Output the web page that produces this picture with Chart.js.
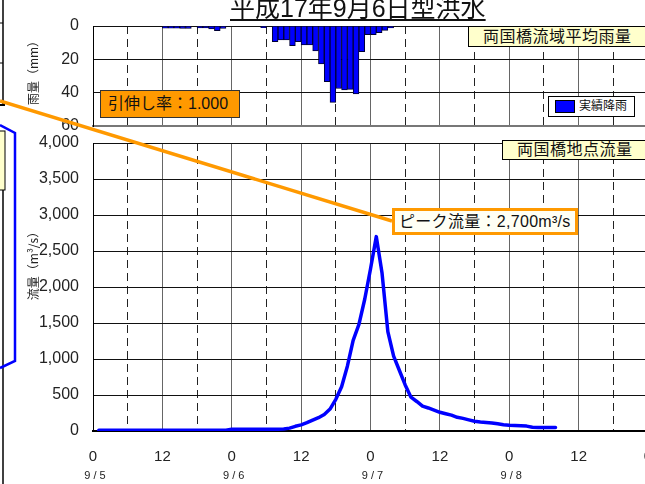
<!DOCTYPE html>
<html>
<head>
<meta charset="utf-8">
<script src="https://cdn.jsdelivr.net/npm/chart.js@4/dist/chart.umd.min.js"></script>
<style>
  html, body { margin: 0; padding: 0; background: #fff; overflow: hidden; width: 645px; height: 484px; }
  #wrap { position: relative; width: 645px; height: 484px; overflow: hidden;
          font-family: "Liberation Sans", "Noto Sans CJK JP", sans-serif; color: #111; }
  canvas { position: absolute; left: 0; }
  #rainChart { top: 0; }
  #flowChart { top: 130px; }
  #deco { position: absolute; left: 0; top: 0; }
  .box { position: absolute; box-sizing: border-box; white-space: nowrap; }
  #title { position: absolute; left: 230px; top: -4px; font-size: 25px; line-height: 25px;
           text-decoration: underline; text-decoration-thickness: 2px; text-underline-offset: 2px; }
  #rainName { left: 468px; top: 26px; width: 190px; height: 21px; background: #ffffcc;
              border: 1px solid #000; font-size: 16px; line-height: 19px; padding-left: 14px; letter-spacing: 0.5px; }
  #flowName { left: 502px; top: 140px; width: 160px; height: 20px; background: #ffffcc;
              border: 1px solid #000; font-size: 16px; line-height: 18px; padding-left: 14px; letter-spacing: 0.5px; }
  #legend { left: 548px; top: 96px; width: 87px; height: 21px; background: #fff;
            border: 1px solid #000; font-size: 12px; line-height: 19px; padding-left: 30px; }
  #legend i { position: absolute; left: 6px; top: 3px; width: 20px; height: 13px; background: #0000ff;
              border: 1px solid #000; box-sizing: border-box; }
  #ratio { left: 100px; top: 90px; width: 140px; height: 28px; background: #ff9900;
           border: 1px solid #333; font-size: 16px; line-height: 26px; padding-left: 7px; }
  #peak { left: 392px; top: 208px; width: 186px; height: 27px; background: #fffff4;
          border: 3px solid #ff9900; font-size: 16px; line-height: 21px; padding-left: 4px; letter-spacing: 0.3px; }
</style>
</head>
<body>
<div id="wrap">
  <canvas id="rainChart" width="660" height="140"></canvas>
  <canvas id="flowChart" width="660" height="354"></canvas>
  <svg id="deco" width="645" height="484">
    <line x1="3" y1="0" x2="3" y2="105" stroke="#000" stroke-width="1.5"/>
    <line x1="0" y1="23" x2="3" y2="23" stroke="#000" stroke-width="1"/>
    <line x1="0" y1="63" x2="3" y2="63" stroke="#000" stroke-width="1"/>
    <line x1="0" y1="105" x2="5" y2="105" stroke="#000" stroke-width="2"/>
    <rect x="-2" y="131" width="7" height="59" fill="#ffffcc" stroke="#000" stroke-width="1"/>
    <line x1="3" y1="190" x2="3" y2="484" stroke="#000" stroke-width="1.5"/>
    <polyline points="0,125 15,133 15,361 0,368" fill="none" stroke="#0000ff" stroke-width="2.5"/>
    <line x1="0" y1="101" x2="392" y2="221" stroke="#ff9900" stroke-width="3.5"/>
  </svg>
  <div id="title">平成17年9月6日型洪水</div>
  <div class="box" id="rainName">両国橋流域平均雨量</div>
  <div class="box" id="flowName">両国橋地点流量</div>
  <div class="box" id="legend"><i></i>実績降雨</div>
  <div class="box" id="ratio">引伸し率：1.000</div>
  <div class="box" id="peak">ピーク流量：2,700m³/s</div>
</div>
<script>
// hourly basin rainfall (mm), hour 0 = 9/5 0:00
const rainfall = [
  0, 0, 0, 0, 0, 0, 0, 0, 0, 0, 0, 0,
  1.3, 1.3, 1.3, 1.5, 1.5, 0, 1.2, 1.2, 1.8, 2.8, 1.5, 0,
  0.3, 0.3, 0.3, 0.3, 0.3, 1.0, 0, 9.4, 8.4, 8.4, 11.8, 9.4,
  11.4, 11.4, 15, 22.8, 33.4, 45.8, 37.5, 38.4, 38, 40.8, 15.4, 5.2,
  5.2, 4, 2.6, 1.2, 0.3, 0.3, 0.3, 0.3, 0.3, 0.3
];

// hourly discharge at Ryogoku bridge (m3/s), starting at flowStartHour
const flowStartHour = 1;
const flow = [
  10, 10, 10, 10, 10, 10, 10, 10, 10, 10, 10, 10,
  10, 10, 10, 10, 10, 10, 10, 10, 10, 10, 10,
  25, 25, 25, 25, 25, 25, 25, 25, 25, 28,
  40, 65, 85, 115, 150, 185, 230, 305, 440, 615,
  900, 1260, 1480, 1830, 2250, 2700, 2190, 1380, 1040, 840,
  640, 470, 410, 345, 320, 290, 260, 240, 220, 190,
  175, 155, 135, 125, 118, 112, 100, 88, 80, 76,
  72, 68, 52, 50, 50, 50, 50
];

const hourLabels = ["0", "12"];
const dateLabels = ["9 / 5", "9 / 6", "9 / 7", "9 / 8"];

const tickFont = { family: "'Liberation Sans Narrow', 'Liberation Sans', sans-serif", size: 16 };
const titleFont = { family: "'Noto Sans CJK JP', sans-serif", size: 12 };

const isHalf = (ctx) => ctx.tick && ctx.tick.value % 12 !== 0;
const vDash = (ctx) => (isHalf(ctx) ? [8, 5] : []);
const vColor = (ctx) => (isHalf(ctx) ? "#222" : "#666");
const clear = "rgba(0,0,0,0)";

new Chart(document.getElementById("rainChart"), {
  type: "bar",
  data: {
    datasets: [
      {
        label: "実績降雨",
        data: rainfall.map((v, i) => ({ x: i + 0.5, y: v })),
        backgroundColor: "#0000ff",
        borderColor: "#000033",
        borderWidth: 1,
        barPercentage: 1,
        categoryPercentage: 1,
      },
    ],
  },
  options: {
    responsive: false,
    animation: false,
    layout: { padding: { top: 26, bottom: 14, right: 12, left: 0 } },
    plugins: { legend: { display: false }, tooltip: { enabled: false } },
    scales: {
      x: {
        type: "linear",
        min: 0,
        max: 96,
        offset: false,
        grid: { color: vColor, drawTicks: false, offset: false },
        border: { dash: vDash, color: "#777", width: 2 },
        ticks: { display: false, stepSize: 6 },
        afterFit: (s) => { s.height = 0; },
      },
      y: {
        min: 0,
        max: 60,
        reverse: true,
        grid: { color: "#111", tickLength: 14, tickColor: clear },
        border: { color: "#000" },
        ticks: { stepSize: 20, padding: 0, font: tickFont, color: "#222" },
        // leading ideographic space nudges the rotated title up a little
        title: { display: true, text: "\u3000雨量（mm）", font: titleFont, color: "#222", padding: { top: 26 } },
        afterFit: (s) => { s.width = 93; },
      },
    },
  },
});

new Chart(document.getElementById("flowChart"), {
  type: "line",
  data: {
    datasets: [
      {
        label: "両国橋地点流量",
        data: flow.map((v, i) => ({ x: i + flowStartHour, y: v })),
        borderColor: "#0000ff",
        borderWidth: 3.5,
        pointRadius: 0,
        fill: false,
        tension: 0,
        borderCapStyle: "round",
        borderJoinStyle: "round",
      },
    ],
  },
  options: {
    responsive: false,
    animation: false,
    layout: { padding: { top: 13, bottom: 0, right: 12, left: 0 } },
    plugins: { legend: { display: false }, tooltip: { enabled: false } },
    scales: {
      x: {
        type: "linear",
        min: 0,
        max: 96,
        offset: false,
        grid: { color: vColor, tickLength: 17, tickColor: clear, offset: false },
        border: { dash: vDash, color: "#000", width: 2 },
        ticks: {
          stepSize: 6,
          autoSkip: false,
          maxRotation: 0,
          padding: 0,
          font: { family: tickFont.family, size: 15 },
          color: "#222",
          callback: (v) => (v % 12 === 0 ? hourLabels[(v % 24) / 12] : ""),
        },
        afterFit: (s) => { s.height = 36; },
      },
      x2: {
        type: "linear",
        position: "bottom",
        min: 0,
        max: 96,
        grid: { display: false, drawTicks: false },
        border: { display: false },
        ticks: {
          stepSize: 24,
          autoSkip: false,
          maxRotation: 0,
          padding: 2,
          labelOffset: 2,
          font: { family: "'Liberation Sans', sans-serif", size: 11 },
          color: "#222",
          callback: (v) => dateLabels[v / 24] || "",
        },
        afterFit: (s) => { s.height = 17; },
      },
      y: {
        min: 0,
        max: 4000,
        grid: { color: "#111", tickLength: 14, tickColor: clear },
        border: { color: "#000" },
        ticks: {
          stepSize: 500,
          padding: 0,
          font: tickFont,
          color: "#222",
          callback: (v) => v.toLocaleString("en-US"),
        },
        title: { display: true, text: "\u3000\u3000\u3000\u3000流量（m³/s）", font: titleFont, color: "#222", padding: { top: 26 } },
        afterFit: (s) => { s.width = 93; },
      },
    },
  },
});
</script>
</body>
</html>
